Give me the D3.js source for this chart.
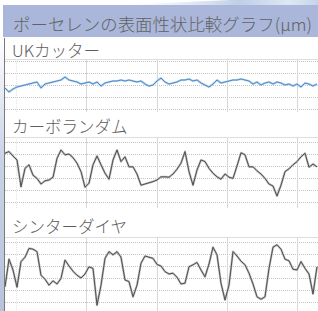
<!DOCTYPE html>
<html lang="ja">
  <head>
    <meta charset="UTF-8">
    <title>ポーセレンの表面性状比較グラフ</title>
    <script src="https://d3js.org/d3.v7.min.js"></script>
    <style>
      body {
        margin: 0;
        padding: 0;
        background-color: #fff;
      }
      svg { display: block; }
    </style>
  </head>
  <body>
    <svg id="chart" width="318" height="311"></svg>

    <script>
    const title = "ポーセレンの表面性状比較グラフ(μm)";
    const seriesNames = ["UKカッター", "カーボランダム", "シンターダイヤ"];

    // sampling along the trace, mm
    const xStart = -0.16;
    const sampleStep = 0.057;
    const gridX = [0, 1, 2, 3, 4];
    const gridY = [-7.5, -4.5, -1.5, 1.5, 4.5, 7.5];

    // profile heights, μm
    const ukCutter = [-2.25,-3.25,-2.5,-2.0,-1.75,-1.5,-1.25,-1.0,-0.75,-2.25,-1.25,-1.0,-0.75,-0.5,-0.25,0.5,-0.25,-0.5,-0.75,-1.25,
      -1.0,-0.75,-1.25,-0.75,-1.75,-1.0,-0.75,-0.5,-0.5,-0.25,-0.5,-0.25,-0.5,-0.75,-0.5,-1.25,-1.75,-1.5,-0.5,0.25,
      -0.75,-1.25,-1.0,-0.75,-0.25,-0.25,0,-0.5,-0.25,-1.0,-1.5,-2.0,-1.25,-0.25,-1.0,-0.75,-0.5,-0.25,-0.25,0,
      -0.25,-0.5,-1.25,-0.75,-1.5,-1.0,-0.75,-1.25,-0.75,-1.0,-1.5,-1.25,-1.75,-1.25,-2.0,-1.0,-1.25,-1.75,-1.25];

    const carborundum = [4.7,5.1,4.0,3.0,-3.7,0.9,1.8,-0.8,-1.6,-3.0,-2.2,-2.0,-1.3,3.4,5.5,4.3,4.5,3.6,2.2,0.1,
      -3.8,-2.8,1.8,4.0,1.8,-0.3,-1.8,3.0,5.5,2.6,3.8,1.3,1.3,-0.5,-3.3,-3.0,-2.7,-2.4,-2.0,-1.2,
      -1.2,-1.3,-0.5,0.7,2.2,5.1,0.1,-3.3,0.5,3.0,2.6,0.9,-0.3,-1.2,-1.8,-0.5,-1.3,-1.6,1.5,4.8,
      4.3,1.3,1.3,0.3,-0.5,-1.6,-3.0,-3.5,-6.0,-3.3,0.1,0.8,1.8,2.6,3.8,4.7,1.2,2.0,1.3];

    const sinterDiamond = [-3.7,3.2,0.5,-3.8,2.6,3.7,5.9,5.7,5.1,-0.8,-1.8,-3.3,-2.2,-3.0,-1.6,3.0,1.5,0.2,-0.8,-1.5,
      -0.5,1.3,0.9,-8.3,-3.3,3.4,5.1,4.3,5.1,3.7,-2.0,-2.4,-6.2,-3.3,2.2,4.0,3.7,3.4,1.9,1.5,
      0.1,-0.5,-0.3,-1.3,-3.0,-2.8,1.3,1.8,2.4,0.5,-1.2,2.0,6.2,4.3,-2.8,-7.0,-3.3,5.1,4.0,2.7,
      1.8,-0.3,-3.0,-6.2,-6.8,-6.2,0.9,6.2,6.8,5.7,3.2,2.8,0.7,0.5,2.6,0.9,-0.5,-5.5,1.3];

    var svg = d3.select("#chart"),
        width = +svg.attr("width"),
        height = +svg.attr("height");

    var font = "'Noto Sans CJK JP', 'Noto Sans', sans-serif";

    var defs = svg.append("defs");

    var sw = defs.append("linearGradient").attr("id", "swoosh")
      .attr("x1", 0).attr("x2", 1).attr("y1", 0).attr("y2", 0);
    sw.append("stop").attr("offset", "0%").attr("stop-color", "#dde6f3").attr("stop-opacity", 0);
    sw.append("stop").attr("offset", "60%").attr("stop-color", "#b9c9e4").attr("stop-opacity", 0.9);
    sw.append("stop").attr("offset", "85%").attr("stop-color", "#dfe8f4").attr("stop-opacity", 1);
    sw.append("stop").attr("offset", "100%").attr("stop-color", "#c6d3ea").attr("stop-opacity", 1);

    var side = defs.append("linearGradient").attr("id", "side")
      .attr("x1", 0).attr("x2", 0).attr("y1", 0).attr("y2", 1);
    side.append("stop").attr("offset", "0%").attr("stop-color", "#ffffff");
    side.append("stop").attr("offset", "45%").attr("stop-color", "#c9d3e6");
    side.append("stop").attr("offset", "100%").attr("stop-color", "#b7c3dc");

    // header swoosh + title bar
    svg.append("path")
      .attr("d", "M120,5 L318,5 L318,0 L230,0 Z")
      .attr("fill", "url(#swoosh)");

    svg.append("rect")
      .attr("x", 3).attr("y", 5)
      .attr("width", width - 3).attr("height", 32)
      .attr("fill", "#aab7da");

    svg.append("text")
      .attr("x", 13).attr("y", 31)
      .attr("textLength", 299)
      .attr("lengthAdjust", "spacingAndGlyphs")
      .style("font-family", font)
      .style("font-size", "17.2px")
      .style("font-weight", 300)
      .style("fill", "#626262")
      .text(title);

    // left strip
    svg.append("rect")
      .attr("x", 0).attr("y", 37)
      .attr("width", 4).attr("height", height - 37)
      .attr("fill", "url(#side)");

    var panels = [
      { name: seriesNames[0], values: ukCutter, center: 79, top: 59, bottom: 112, labelY: 57,
        color: "#4a8cca", halo: "#b9d3ec" },
      { name: seriesNames[1], values: carborundum, center: 172, top: 137, bottom: 208, labelY: 133,
        color: "#505050", halo: "#bdbdbd" },
      { name: seriesNames[2], values: sinterDiamond, center: 272, top: 237, bottom: 311, labelY: 233,
        color: "#505050", halo: "#bdbdbd" }
    ];

    var n = ukCutter.length;
    var xScale = d3.scaleLinear()
      .domain([xStart, xStart + (n - 1) * sampleStep])
      .range([5, 317]);

    panels.forEach(function(p) {
      var yScale = d3.scaleLinear().domain([-8, 8]).range([p.center + 32, p.center - 32]);
      var g = svg.append("g");

      g.append("line")
        .attr("x1", 5).attr("x2", width)
        .attr("y1", p.top + 0.5).attr("y2", p.top + 0.5)
        .attr("stroke", "#dedede");

      g.selectAll(".hgrid")
        .data(gridY.filter(function(d) { return yScale(d) > p.top + 1 && yScale(d) < p.bottom; }))
        .enter().append("line")
        .attr("x1", 5).attr("x2", width)
        .attr("y1", function(d) { return Math.round(yScale(d)) + 0.5; })
        .attr("y2", function(d) { return Math.round(yScale(d)) + 0.5; })
        .attr("stroke", "#c4c4c4")
        .attr("stroke-dasharray", "1,1");

      g.selectAll(".vgrid")
        .data(gridX)
        .enter().append("line")
        .attr("x1", function(d) { return Math.round(xScale(d)) + 0.5; })
        .attr("x2", function(d) { return Math.round(xScale(d)) + 0.5; })
        .attr("y1", p.top).attr("y2", p.bottom)
        .attr("stroke", function(d) { return d === 0 ? "#e4e4e4" : "#d8d8d8"; })
        .attr("stroke-dasharray", function(d) { return d === 0 ? "1,1" : null; });

      var line = d3.line()
        .x(function(d, i) { return xScale(xStart + i * sampleStep); })
        .y(function(d) { return yScale(d); });

      g.append("path")
        .datum(p.values)
        .attr("d", line)
        .attr("fill", "none")
        .attr("stroke", p.halo)
        .attr("stroke-width", 2.2)
        .attr("stroke-linejoin", "round");

      g.append("path")
        .datum(p.values)
        .attr("d", line)
        .attr("fill", "none")
        .attr("stroke", p.color)
        .attr("stroke-width", 1)
        .attr("stroke-linejoin", "miter");

      svg.append("text")
        .attr("x", 12).attr("y", p.labelY)
        .style("font-family", font)
        .style("font-size", "16.5px")
        .style("font-weight", 300)
        .style("fill", "#5e5e5e")
        .text(p.name);
    });

    // left rule
    svg.append("line")
      .attr("x1", 4.5).attr("x2", 4.5)
      .attr("y1", 38).attr("y2", height)
      .attr("stroke", "#7a7a7a");
    </script>
  </body>
</html>
